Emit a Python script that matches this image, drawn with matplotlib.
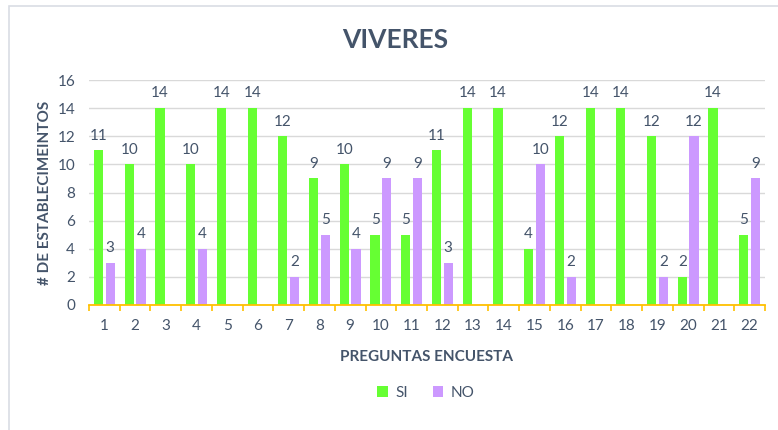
import matplotlib
matplotlib.use("Agg")
import matplotlib.pyplot as plt
import numpy as np
from matplotlib.patches import Rectangle

categories = [str(i) for i in range(1, 23)]
si_values = [11, 10, 14, 10, 14, 14, 12, 9, 10, 5, 5, 11, 14, 14, 4, 12, 14, 14, 12, 2, 14, 5]
no_values = [3, 4, 0, 4, 0, 0, 2, 5, 4, 9, 9, 3, 0, 0, 10, 2, 0, 0, 2, 12, 0, 9]
yticks = [0, 2, 4, 6, 8, 10, 12, 14, 16]

plt.rcParams['font.family'] = ['Lato', 'DejaVu Sans']
text_color = '#44546A'
green = '#66FF33'
purple = '#CC99FF'

fig = plt.figure(figsize=(7.78, 4.30), dpi=100)
fig.patch.set_facecolor('white')
# chart border (left and top visible)
fig.add_artist(Rectangle((8.5/778, -0.1), 1.2, 1 - 6.5/430 + 0.1, transform=fig.transFigure,
                         fill=False, edgecolor='#D9DDE4', linewidth=1.2))

ax = fig.add_axes([89/778, 1 - 305/430, (765 - 89)/778, (305 - 80)/430])
x = np.arange(len(categories))
w = 0.30
off = 0.19
b1 = ax.bar(x - off, si_values, w, color=green, label='SI', zorder=3)
b2 = ax.bar(x + off, no_values, w, color=purple, label='NO', zorder=3)

for rect, v in zip(b1, si_values):
    if v:
        ax.text(rect.get_x() + rect.get_width() / 2, v + 0.55, str(v), ha='center', va='bottom',
                fontsize=11, color=text_color)
for rect, v in zip(b2, no_values):
    if v:
        ax.text(rect.get_x() + rect.get_width() / 2, v + 0.55, str(v), ha='center', va='bottom',
                fontsize=11, color=text_color)

ax.set_xlim(-0.5, len(categories) - 0.5)
ax.set_ylim(0, 16)
ax.set_yticks(yticks)
ax.set_yticklabels([str(t) for t in yticks], fontsize=11, color=text_color)
ax.set_xticks(x)
ax.set_xticklabels(categories, fontsize=11, color=text_color)
ax.tick_params(axis='x', length=0, pad=10)
ax.tick_params(axis='y', length=0, pad=10)
ax.set_xticks(np.arange(-0.5, len(categories)), minor=True)
ax.tick_params(axis='x', which='minor', length=4, color='#FFC000', width=1.2)
ax.grid(axis='y', color='#D9D9D9', linewidth=1, zorder=0)
for s in ['top', 'right', 'left']:
    ax.spines[s].set_visible(False)
ax.spines['bottom'].set_color('#FFC000')
ax.spines['bottom'].set_linewidth(1.3)
ax.spines['bottom'].set_zorder(4)

ax.set_xlabel('PREGUNTAS ENCUESTA', fontsize=11, fontweight='bold', color=text_color, labelpad=12)
ax.set_ylabel('# DE ESTABLECIMEINTOS', fontsize=11, fontweight='bold', color=text_color, labelpad=4)

fig.text(395/778, 1 - 40/430, 'VIVERES', ha='center', va='center', fontsize=19,
         fontweight='bold', color=text_color)

fig.legend(handles=[b1, b2], labels=['SI', 'NO'], loc='center', bbox_to_anchor=(426/778, 1 - 393/430),
           ncol=2, frameon=False, fontsize=11, labelcolor=text_color, handlelength=0.7,
           handleheight=0.7, columnspacing=1.6, handletextpad=0.5)

fig.savefig('out.png', dpi=100, facecolor='white')
